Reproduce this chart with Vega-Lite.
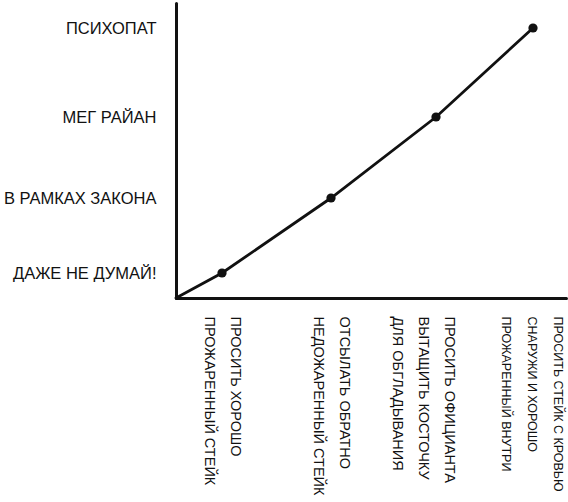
{
  "$schema": "https://vega.github.io/schema/vega-lite/v6.json",
  "width": 390,
  "height": 295,
  "autosize": {"type": "none"},
  "padding": {"left": 176, "top": 3, "right": 2, "bottom": 204},
  "background": "#fff",
  "data": {
    "values": [
      {"step": 0, "level": 0},
      {"step": 46, "level": 25, "request": "ПРОСИТЬ ХОРОШО ПРОЖАРЕННЫЙ СТЕЙК", "rating": "ДАЖЕ НЕ ДУМАЙ!"},
      {"step": 155, "level": 100, "request": "ОТСЫЛАТЬ ОБРАТНО НЕДОЖАРЕННЫЙ СТЕЙК", "rating": "В РАМКАХ ЗАКОНА"},
      {"step": 260, "level": 181, "request": "ПРОСИТЬ ОФИЦИАНТА ВЫТАЩИТЬ КОСТОЧКУ ДЛЯ ОБГЛАДЫВАНИЯ", "rating": "МЕГ РАЙАН"},
      {"step": 357, "level": 270, "request": "ПРОСИТЬ СТЕЙК С КРОВЬЮ СНАРУЖИ И ХОРОШО ПРОЖАРЕННЫЙ ВНУТРИ", "rating": "ПСИХОПАТ"}
    ]
  },
  "encoding": {
    "x": {
      "field": "step",
      "type": "quantitative",
      "title": null,
      "scale": {"domain": [0, 390], "nice": false, "zero": true},
      "axis": {
        "values": [46, 155, 260, 357],
        "labelAngle": 90,
        "labelPadding": 18,
        "labelLineHeight": 26,
        "labelFontSize": {"condition": {"test": "datum.value == 357", "value": 12.5}, "value": 14.5},
        "labelLimit": 0,
        "labelOverlap": false,
        "labelOffset": {"condition": {"test": "datum.value == 357", "value": 24}, "value": 12},
        "labelExpr": "datum.value == 46 ? ['ПРОСИТЬ ХОРОШО', 'ПРОЖАРЕННЫЙ СТЕЙК'] : datum.value == 155 ? ['ОТСЫЛАТЬ ОБРАТНО', 'НЕДОЖАРЕННЫЙ СТЕЙК'] : datum.value == 260 ? ['ПРОСИТЬ ОФИЦИАНТА', 'ВЫТАЩИТЬ КОСТОЧКУ', 'ДЛЯ ОБГЛАДЫВАНИЯ'] : ['ПРОСИТЬ СТЕЙК С КРОВЬЮ', 'СНАРУЖИ И ХОРОШО', 'ПРОЖАРЕННЫЙ ВНУТРИ']"
      }
    },
    "y": {
      "field": "level",
      "type": "quantitative",
      "title": null,
      "scale": {"domain": [0, 295], "nice": false, "zero": true},
      "axis": {
        "values": [25, 100, 181, 270],
        "labelPadding": 20,
        "labelFontSize": 16.5,
        "labelLimit": 0,
        "labelExpr": "datum.value == 25 ? 'ДАЖЕ НЕ ДУМАЙ!' : datum.value == 100 ? 'В РАМКАХ ЗАКОНА' : datum.value == 181 ? 'МЕГ РАЙАН' : 'ПСИХОПАТ'"
      }
    }
  },
  "layer": [
    {
      "mark": {"type": "line", "color": "#111", "strokeWidth": 2.8, "strokeCap": "round"}
    },
    {
      "transform": [{"filter": "datum.step > 0"}],
      "mark": {"type": "point", "filled": true, "color": "#111", "size": 85, "opacity": 1},
      "encoding": {
        "tooltip": [{"field": "request"}, {"field": "rating"}]
      }
    }
  ],
  "config": {
    "font": "Liberation Sans",
    "view": {"stroke": null},
    "axis": {
      "grid": false,
      "ticks": false,
      "domainColor": "#111",
      "domainWidth": 3,
      "domainCap": "round",
      "labelColor": "#111",
      "labelFont": "Liberation Sans"
    }
  }
}
